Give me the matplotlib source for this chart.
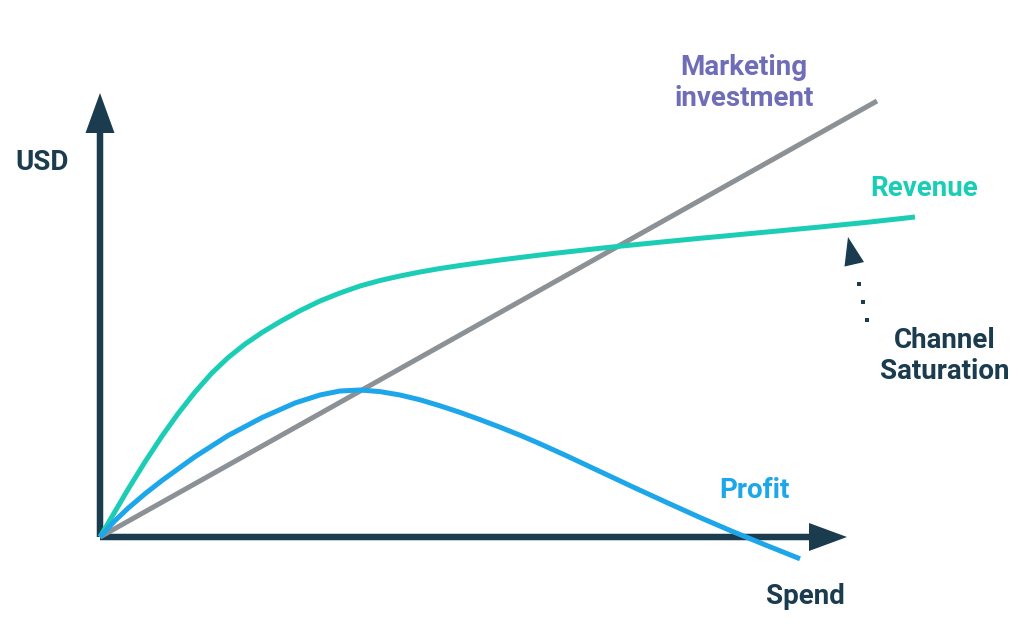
import numpy as np
import matplotlib
matplotlib.use("Agg")
import matplotlib.pyplot as plt

# ---- data (spend vs USD, arbitrary units) ----
invest_x = [0, 777]
invest_y = [0, 436]

rev_x = [0, 28, 45, 62, 78, 95, 112, 128, 145, 162, 180, 200, 220, 240, 260, 280,
         300, 320, 340, 360, 380, 400, 420, 440, 460, 480, 500, 520, 567, 600, 633,
         667, 720, 770, 815]
rev_y = [0, 47.6, 75.1, 100.9, 123.3, 144.9, 164.1, 179.3, 192.9, 204.5, 215.3, 226.3,
         236, 244, 251, 256.5, 261, 265, 268.5, 271.5, 274.3, 277, 279.5, 282, 284.3,
         286.5, 288.7, 290.8, 295.5, 298.7, 301.8, 305, 310, 315, 320]

prof_x = [0, 14, 28, 45, 62, 95, 128, 162, 195, 220, 240, 260, 280, 300, 320, 340,
          360, 380, 400, 420, 440, 467, 500, 533, 567, 600, 633, 667, 700]
prof_y = [0, 15.4, 28.7, 43.2, 56.5, 80.3, 101.4, 119.4, 134, 142, 146, 147, 145.4,
          142, 137.2, 131.2, 124.6, 117.4, 109.8, 101.8, 93.2, 81, 65.5, 50, 34.4,
          19.5, 5.3, -8.6, -21.8]

NAVY = "#1b3c4e"
GREY = "#8c9196"
TEAL = "#1ccdb5"
BLUE = "#1da6ea"
PURPLE = "#6f6db8"

plt.rcParams['font.family'] = ['Roboto', 'DejaVu Sans']

fig = plt.figure(figsize=(10.34, 6.30), dpi=100)
ax = fig.add_axes([0, 0, 1, 1])
ax.set_xlim(-100, 934)
ax.set_ylim(-93, 537)
ax.axis('off')

# axes arrows
x_end, y_end = 747, 444
ax.arrow(0, 0, 0, y_end, width=6.5, head_width=29, head_length=40,
         length_includes_head=True, color=NAVY, zorder=1, lw=0)
ax.arrow(0, 0, x_end, 0, width=6.5, head_width=28, head_length=38,
         length_includes_head=True, color=NAVY, zorder=1, lw=0)

# curves
ax.plot(invest_x, invest_y, color=GREY, lw=3.6, solid_capstyle='butt', zorder=2)
ax.plot(rev_x, rev_y, color=TEAL, lw=3.6, solid_capstyle='butt',
        solid_joinstyle='round', zorder=3)
ax.plot(prof_x, prof_y, color=BLUE, lw=3.6, solid_capstyle='butt',
        solid_joinstyle='round', zorder=3)

# labels
fs = 20
ls = 1.22
ax.text(-58, 375, "USD", color=NAVY, fontsize=fs, fontweight='bold', ha='center', va='center')
ax.text(705, -59, "Spend", color=NAVY, fontsize=fs, fontweight='bold', ha='center', va='center')
ax.text(644, 454, "Marketing\ninvestment", color=PURPLE, fontsize=fs, fontweight='bold',
        ha='center', va='center', linespacing=ls)
ax.text(824, 349, "Revenue", color=TEAL, fontsize=fs, fontweight='bold', ha='center', va='center')
ax.text(654, 47, "Profit", color=BLUE, fontsize=fs, fontweight='bold', ha='center', va='center')
ax.text(845, 181, "Channel\nSaturation", color=NAVY, fontsize=fs, fontweight='bold',
        ha='center', va='center', linespacing=ls)

# dotted saturation arrow
tail = np.array([767, 217])
tip = np.array([748, 300])
d = tip - tail
base = tail + d * (1 - 28 / np.hypot(*d))
ax.arrow(base[0], base[1], tip[0] - base[0], tip[1] - base[1], width=4, head_width=20,
         head_length=28, length_includes_head=True, color=NAVY, lw=0, zorder=4)
dots = [tail + d * t for t in (0.0, 0.215, 0.43)]
ax.plot([p[0] for p in dots], [p[1] for p in dots], 's', color=NAVY, ms=3.5, mew=0)

fig.savefig("out.png", dpi=100)
